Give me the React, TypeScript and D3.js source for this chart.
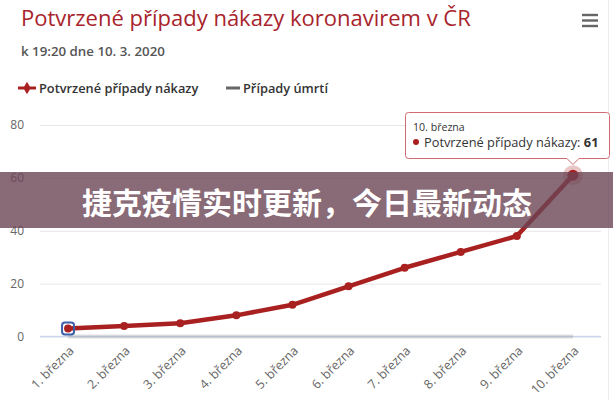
import React, { useEffect, useRef } from 'react';
import * as d3 from 'd3';

const categories = [
    '1. března',
    '2. března',
    '3. března',
    '4. března',
    '5. března',
    '6. března',
    '7. března',
    '8. března',
    '9. března',
    '10. března',
];
const confirmedCases = [3, 4, 5, 8, 12, 19, 26, 32, 38, 61];
const deathCases = [0, 0, 0, 0, 0, 0, 0, 0, 0, 0];
const yTicks = [0, 20, 40, 60, 80];

const titleText = 'Potvrzené případy nákazy koronavirem v ČR';
const subtitleText = 'k 19:20 dne 10. 3. 2020';
const legendNames = ['Potvrzené případy nákazy', 'Případy úmrtí'];
const bannerText = '捷克疫情实时更新，今日最新动态';

const WIDTH = 613;
const HEIGHT = 400;
const RED = '#a8201f';
const GREY = '#666666';
const FONT = '"Open Sans", "Noto Sans", sans-serif';

const App: React.FC = () => {
    const svgRef = useRef<SVGSVGElement | null>(null);

    useEffect(() => {
        if (svgRef.current) {
            drawChart();
        }
    }, []);

    const drawChart = () => {
        const svg = d3.select(svgRef.current);
        svg.selectAll('*').remove();

        svg.append('rect')
            .attr('width', WIDTH)
            .attr('height', HEIGHT)
            .attr('fill', '#ffffff');

        // frame on the right
        svg.append('line')
            .attr('x1', 608.5)
            .attr('x2', 608.5)
            .attr('y1', 0)
            .attr('y2', HEIGHT)
            .attr('stroke', '#ebebf0');

        const left = 40;
        const right = 601;
        const x = d3
            .scalePoint<string>()
            .domain(categories)
            .range([left, right])
            .padding(0.5);
        const y = d3.scaleLinear().domain([0, 80]).range([336.5, 125]);

        // title block
        svg.append('text')
            .attr('x', 21)
            .attr('y', 26)
            .style('font-family', FONT)
            .style('font-size', '22px')
            .style('fill', '#a8242c')
            .text(titleText);

        svg.append('text')
            .attr('x', 21)
            .attr('y', 56)
            .style('font-family', FONT)
            .style('font-size', '13.3px')
            .style('font-weight', 600)
            .style('fill', '#555555')
            .text(subtitleText);

        // menu icon
        [15, 20.5, 26].forEach((my) => {
            svg.append('rect')
                .attr('x', 582)
                .attr('y', my - 1.2)
                .attr('width', 16)
                .attr('height', 2.4)
                .attr('fill', GREY);
        });

        // legend
        const legend = svg.append('g').attr('transform', 'translate(0,88)');
        legend
            .append('line')
            .attr('x1', 18)
            .attr('x2', 36)
            .attr('stroke', RED)
            .attr('stroke-width', 3);
        legend
            .append('path')
            .attr('d', d3.symbol(d3.symbolDiamond, 45)())
            .attr('transform', 'translate(27,0)')
            .attr('fill', RED);
        legend
            .append('text')
            .attr('x', 39)
            .attr('y', 4.5)
            .style('font-family', FONT)
            .style('font-size', '12.8px')
            .style('font-weight', 600)
            .style('fill', '#333333')
            .text(legendNames[0]);
        legend
            .append('line')
            .attr('x1', 226)
            .attr('x2', 240)
            .attr('stroke', GREY)
            .attr('stroke-width', 3);
        legend
            .append('text')
            .attr('x', 243)
            .attr('y', 4.5)
            .style('font-family', FONT)
            .style('font-size', '12.8px')
            .style('font-weight', 600)
            .style('fill', '#333333')
            .text(legendNames[1]);

        // y axis + grid
        const yAxis = svg
            .append('g')
            .attr('transform', `translate(${left},0)`)
            .call(
                d3
                    .axisLeft(y)
                    .tickValues(yTicks)
                    .tickSize(-(right - left))
                    .tickPadding(16)
            );
        yAxis.select('.domain').remove();
        yAxis.selectAll('line').attr('stroke', '#e6e6e6');
        yAxis
            .selectAll('text')
            .style('font-family', FONT)
            .style('font-size', '12px')
            .style('fill', '#666666');

        // x axis
        const xAxis = svg
            .append('g')
            .attr('transform', `translate(0,${y(0)})`)
            .call(d3.axisBottom(x).tickSize(0));
        xAxis
            .select('.domain')
            .attr('stroke', '#ccd6eb')
            .attr('stroke-width', 1.5)
            .attr('d', `M${left},0H${right}`);
        xAxis
            .selectAll('text')
            .attr('x', 0)
            .attr('y', 0)
            .attr('dy', 0)
            .attr('transform', 'translate(6,15) rotate(-45)')
            .style('text-anchor', 'end')
            .style('font-family', FONT)
            .style('font-size', '12.5px')
            .style('fill', '#666666');

        const line = d3
            .line<number>()
            .x((d, i) => x(categories[i]) as number)
            .y((d) => y(d));

        // deaths series (inactive state)
        svg.append('path')
            .datum(deathCases)
            .attr('d', line)
            .attr('fill', 'none')
            .attr('stroke', GREY)
            .attr('stroke-width', 4)
            .attr('opacity', 0.2);

        // confirmed series
        svg.append('path')
            .datum(confirmedCases)
            .attr('d', line)
            .attr('fill', 'none')
            .attr('stroke', RED)
            .attr('stroke-width', 4.5)
            .attr('stroke-linejoin', 'round');

        svg.selectAll('.marker')
            .data(confirmedCases)
            .enter()
            .append('circle')
            .attr('class', 'marker')
            .attr('cx', (d, i) => x(categories[i]) as number)
            .attr('cy', (d) => y(d))
            .attr('r', 4)
            .attr('fill', RED);

        const lastIndex = confirmedCases.length - 1;
        const lastX = x(categories[lastIndex]) as number;
        const lastY = y(confirmedCases[lastIndex]);

        // hover halo on the last point
        svg.append('circle')
            .attr('cx', lastX)
            .attr('cy', lastY)
            .attr('r', 10)
            .attr('fill', RED)
            .attr('opacity', 0.25);
        svg.append('circle')
            .attr('cx', lastX)
            .attr('cy', lastY)
            .attr('r', 5.5)
            .attr('fill', RED);

        // focus ring on the first point
        const firstX = x(categories[0]) as number;
        const firstY = y(confirmedCases[0]);
        svg.append('rect')
            .attr('x', firstX - 6)
            .attr('y', firstY - 6)
            .attr('width', 12)
            .attr('height', 12)
            .attr('rx', 3)
            .attr('fill', 'none')
            .attr('stroke', '#3d5fa8')
            .attr('stroke-width', 2);

        // tooltip
        const tip = svg.append('g');
        const boxLeft = 405.5;
        const boxTop = 112.5;
        const boxRight = 609.5;
        const boxBottom = 158.5;
        tip.append('path')
            .attr(
                'd',
                `M${boxLeft + 3},${boxTop}H${boxRight - 3}Q${boxRight},${boxTop} ${boxRight},${boxTop + 3}` +
                    `V${boxBottom - 3}Q${boxRight},${boxBottom} ${boxRight - 3},${boxBottom}` +
                    `H${lastX + 6}L${lastX},${boxBottom + 6}L${lastX - 6},${boxBottom}` +
                    `H${boxLeft + 3}Q${boxLeft},${boxBottom} ${boxLeft},${boxBottom - 3}` +
                    `V${boxTop + 3}Q${boxLeft},${boxTop} ${boxLeft + 3},${boxTop}Z`
            )
            .attr('fill', 'rgba(255,255,255,0.96)')
            .attr('stroke', '#cf6b72')
            .attr('stroke-width', 1);
        tip.append('text')
            .attr('x', 413)
            .attr('y', 131)
            .style('font-family', FONT)
            .style('font-size', '10.6px')
            .style('fill', '#333333')
            .text(categories[lastIndex]);
        tip.append('circle')
            .attr('cx', 416)
            .attr('cy', 142)
            .attr('r', 3)
            .attr('fill', RED);
        const tipLine = tip
            .append('text')
            .attr('x', 424)
            .attr('y', 146.5)
            .style('font-family', FONT)
            .style('font-size', '12.8px')
            .style('fill', '#333333');
        tipLine.append('tspan').text(`${legendNames[0]}: `);
        tipLine
            .append('tspan')
            .style('font-weight', 'bold')
            .text(String(confirmedCases[lastIndex]));

        // banner overlay
        svg.append('rect')
            .attr('x', 0)
            .attr('y', 172)
            .attr('width', WIDTH)
            .attr('height', 56)
            .attr('fill', '#6b4555')
            .attr('opacity', 0.8);
        svg.append('text')
            .attr('x', 307)
            .attr('y', 201)
            .attr('dominant-baseline', 'central')
            .style('text-anchor', 'middle')
            .style('font-family', '"Noto Sans CJK SC", sans-serif')
            .style('font-size', '30px')
            .style('font-weight', 'bold')
            .style('fill', '#ffffff')
            .text(bannerText);
    };

    return (
        <svg
            ref={svgRef}
            width={WIDTH}
            height={HEIGHT}
            style={{ position: 'absolute', left: 0, top: 0 }}
        ></svg>
    );
};

export default App;
